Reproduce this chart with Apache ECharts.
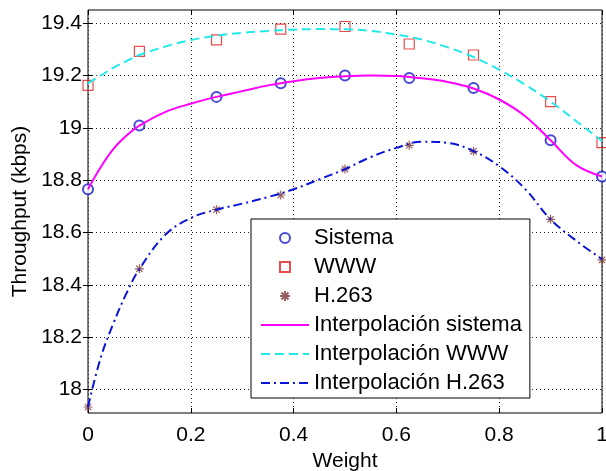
<!DOCTYPE html>
<html lang="es">
<head>
  <meta charset="UTF-8">
  <title>Throughput vs Weight</title>
  <style>
    html, body { margin: 0; padding: 0; background: #fff; }
    #main { width: 606px; height: 471px; }
  </style>
</head>
<body>
  <div id="main"></div>
  <script src="https://cdn.jsdelivr.net/npm/echarts@6/dist/echarts.min.js"></script>
  <script>
    // medidas
    const weights = [0, 0.1, 0.25, 0.375, 0.5, 0.625, 0.75, 0.9, 1]
    const sistema = [18.765, 19.009, 19.118, 19.17, 19.2, 19.19, 19.152, 18.952, 18.814]
    const www = [19.162, 19.292, 19.336, 19.377, 19.387, 19.32, 19.278, 19.1, 18.943]
    const h263 = [17.933, 18.461, 18.687, 18.743, 18.842, 18.933, 18.91, 18.65, 18.495]

    // curvas de interpolacion
    const curveX = [0, 0.025, 0.05, 0.075, 0.1, 0.15, 0.2, 0.25, 0.3, 0.35, 0.4, 0.45,
      0.5, 0.55, 0.6, 0.65, 0.7, 0.75, 0.8, 0.85, 0.9, 0.95, 1]
    const sistemaCurve = [18.765, 18.85, 18.92, 18.97, 19.008, 19.06, 19.092, 19.118, 19.14,
      19.162, 19.178, 19.19, 19.197, 19.2, 19.198, 19.189, 19.175, 19.15, 19.108, 19.045,
      18.952, 18.857, 18.814]
    const wwwCurve = [19.17, 19.2, 19.23, 19.255, 19.278, 19.31, 19.335, 19.352, 19.363,
      19.37, 19.375, 19.377, 19.376, 19.37, 19.356, 19.337, 19.307, 19.27, 19.222, 19.165,
      19.1, 19.025, 18.95]
    const h263Curve = [17.933, 18.123, 18.255, 18.368, 18.46, 18.59, 18.655, 18.687, 18.71,
      18.735, 18.765, 18.803, 18.842, 18.888, 18.923, 18.947, 18.942, 18.911, 18.853, 18.767,
      18.65, 18.568, 18.498]

    const xTicks = [0, 0.2, 0.4, 0.6, 0.8, 1]
    const yTicks = [18, 18.2, 18.4, 18.6, 18.8, 19, 19.2, 19.4]

    const pairs = (xs, ys) => xs.map((x, i) => [x, ys[i]])

    const squarePath = 'path://M0 0L10 0L10 10L0 10Z'
    const starPath = 'path://M5 0L5 10M0 5L10 5M1.5 1.5L8.5 8.5M8.5 1.5L1.5 8.5'

    const font = 'Liberation Sans, Arial, sans-serif'
    const dotted = { type: [1, 3], color: '#222', width: 1 }
    const noSymbol = { opacity: 0 }

    const myChart = echarts.init(document.getElementById('main'))

    const option = {
      animation: false,
      backgroundColor: '#fff',
      textStyle: { fontFamily: font },
      grid: {
        left: 88, right: 4, top: 10, bottom: 58, outerBoundsMode: 'none',
        show: true, borderColor: '#000', borderWidth: 1
      },
      xAxis: [{
        type: 'value', min: 0, max: 1, interval: 0.2,
        name: 'Weight', nameLocation: 'middle', nameGap: 38,
        nameTextStyle: { fontSize: 21, color: '#000', fontFamily: font },
        axisLine: { show: false },
        axisTick: { inside: true, length: 5, lineStyle: { color: '#000' } },
        axisLabel: { fontSize: 21, color: '#000', margin: 12, fontFamily: font },
        splitLine: { show: true, lineStyle: dotted }
      }, {
        type: 'value', min: 0, max: 1, interval: 0.2, position: 'top',
        axisLine: { show: false },
        axisTick: { inside: true, length: 5, lineStyle: { color: '#000' } },
        axisLabel: { show: false }, splitLine: { show: false }
      }],
      yAxis: [{
        type: 'value', min: 17.91, max: 19.45,
        name: 'Throughput (kbps)', nameLocation: 'middle', nameGap: 57,
        nameTextStyle: { fontSize: 21, color: '#000', fontFamily: font },
        axisLine: { show: false },
        axisTick: { inside: true, length: 5, customValues: yTicks, lineStyle: { color: '#000' } },
        axisLabel: { fontSize: 21, color: '#000', margin: 6, customValues: yTicks, fontFamily: font },
        splitLine: { show: true, lineStyle: dotted }
      }, {
        type: 'value', min: 17.91, max: 19.45, position: 'right',
        axisLine: { show: false },
        axisTick: { inside: true, length: 5, customValues: yTicks, lineStyle: { color: '#000' } },
        axisLabel: { show: false, customValues: yTicks }, splitLine: { show: false }
      }],
      legend: {
        orient: 'vertical', left: 251, top: 219,
        backgroundColor: '#fff', borderColor: '#000', borderWidth: 1, borderRadius: 0,
        padding: [8, 8, 4, 9], itemGap: 7, itemWidth: 48, itemHeight: 10,
        textStyle: { fontSize: 22, lineHeight: 22, color: '#000', fontFamily: font },
        data: [
          'Sistema', 'WWW', 'H.263',
          { name: 'Interpolación sistema', itemStyle: noSymbol },
          { name: 'Interpolación WWW', itemStyle: noSymbol },
          { name: 'Interpolación H.263', itemStyle: noSymbol }
        ]
      },
      series: [
        {
          name: 'Interpolación sistema', type: 'line', smooth: 0.4, symbol: 'none',
          data: pairs(curveX, sistemaCurve),
          lineStyle: { color: '#ff00ff', width: 2 }, itemStyle: { color: '#ff00ff' }
        },
        {
          name: 'Interpolación WWW', type: 'line', smooth: 0.4, symbol: 'none',
          data: pairs(curveX, wwwCurve),
          lineStyle: { color: '#22eaea', width: 2, type: [9, 5] }, itemStyle: { color: '#22eaea' }
        },
        {
          name: 'Interpolación H.263', type: 'line', smooth: 0.4, symbol: 'none',
          data: pairs(curveX, h263Curve),
          lineStyle: { color: '#0a14d8', width: 2, type: [9, 4, 2, 4] }, itemStyle: { color: '#0a14d8' }
        },
        {
          name: 'Sistema', type: 'scatter', symbol: 'emptyCircle', symbolSize: 10,
          data: pairs(weights, sistema),
          itemStyle: { color: '#1a1acc', borderColor: '#1a1acc', borderWidth: 1 }
        },
        {
          name: 'WWW', type: 'scatter', symbol: squarePath, symbolSize: 10, symbolKeepAspect: true,
          data: pairs(weights, www),
          itemStyle: { color: 'rgba(0,0,0,0)', borderColor: '#e02020', borderWidth: 1.2 }
        },
        {
          name: 'H.263', type: 'scatter', symbol: starPath, symbolSize: 9, symbolKeepAspect: true,
          data: pairs(weights, h263),
          itemStyle: { color: 'rgba(0,0,0,0)', borderColor: '#7a3a3a', borderWidth: 1.2 }
        }
      ]
    }

    myChart.setOption(option)
  </script>
</body>
</html>
